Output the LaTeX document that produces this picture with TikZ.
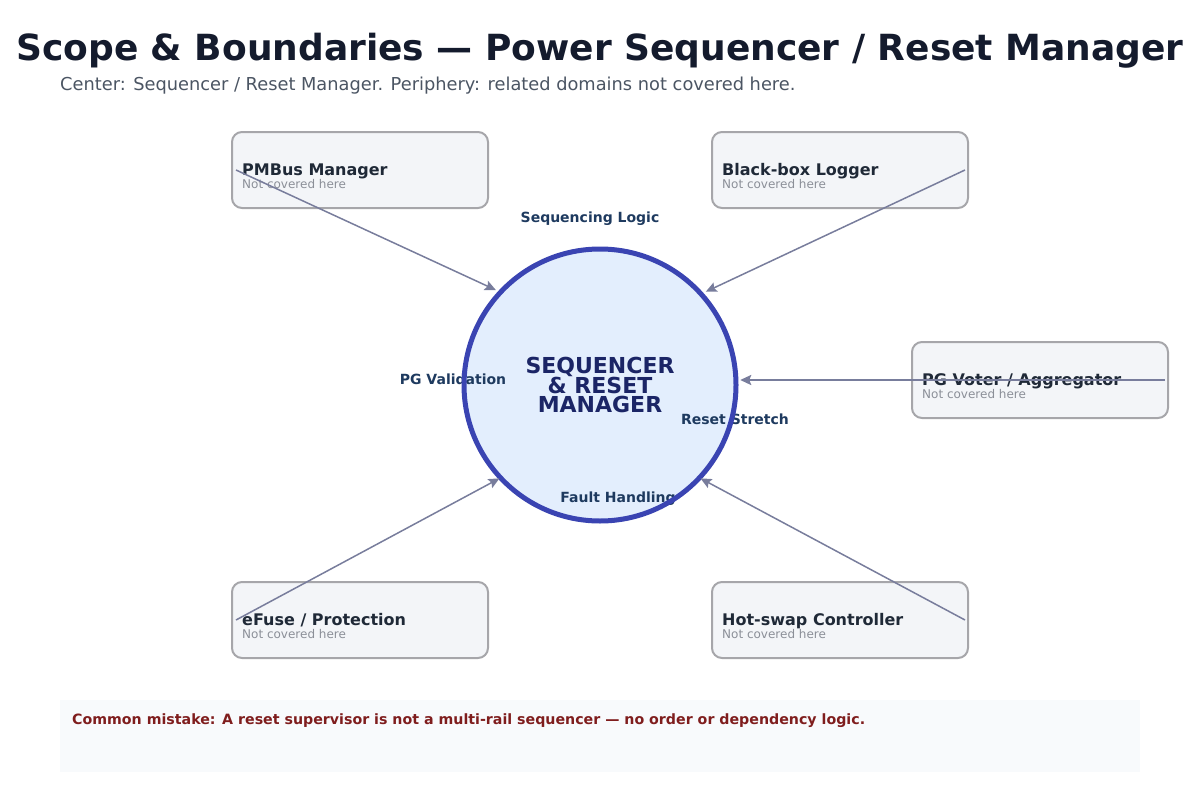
\documentclass[tikz,border=0pt]{standalone}
\usepackage{fontspec}
\setmainfont{DejaVu Sans}
\usepackage{xcolor}
\usetikzlibrary{arrows.meta,calc}

\definecolor{titleink}{HTML}{141B2D}
\definecolor{subink}{HTML}{4B5563}
\definecolor{boxedge}{HTML}{A6A6AA}
\definecolor{boxfill}{HTML}{F3F5F8}
\definecolor{boxink}{HTML}{1F2937}
\definecolor{boxsubink}{HTML}{8B8F98}
\definecolor{corefill}{HTML}{E3EEFD}
\definecolor{coreedge}{HTML}{3A44B2}
\definecolor{coreink}{HTML}{1B2566}
\definecolor{labelink}{HTML}{1E3A5F}
\definecolor{feedink}{HTML}{787D9C}
\definecolor{notefill}{HTML}{F8FAFC}
\definecolor{noteink}{HTML}{7F1D1D}

\begin{document}
\begin{tikzpicture}[x=1pt, y=-1pt,
  scopebox/.style={draw=boxedge, line width=2pt, fill=boxfill, rounded corners=10pt,
    minimum width=256pt, minimum height=76pt},
  boxtitle/.style={anchor=base west, inner sep=0pt, text=boxink, font=\bfseries\fontsize{16}{18}\selectfont},
  boxsub/.style={anchor=base west, inner sep=0pt, text=boxsubink, font=\fontsize{12}{14}\selectfont},
  core/.style={circle, fill=corefill, minimum size=272pt, inner sep=0pt, align=center,
    text=coreink, font=\bfseries\fontsize{22}{19}\selectfont},
  ring/.style={draw=coreedge, line width=5pt},
  facet/.style={text=labelink, font=\bfseries\fontsize{14}{15}\selectfont},
  feed/.style={draw=feedink, line width=1.5pt, -{Stealth[length=11pt,width=10pt,inset=2pt]}}]

  \useasboundingbox (0,0) rectangle (1200,800);

  % Title and subtitle
  \node[text=titleink, font=\bfseries\fontsize{36}{40}\selectfont] (title) at (600,51)
    {Scope \& Boundaries — Power Sequencer / Reset Manager};
  \node[anchor=west, inner sep=0pt, text=subink, font=\fontsize{17.8}{20}\selectfont] (subtitle) at (60,86)
    {Center: Sequencer / Reset Manager. Periphery: related domains not covered here.};

  % Periphery boxes
  \node[scopebox] (pmbus) at (360,170) {};
  \node[boxtitle] at ([xshift=11pt,yshift=-5pt]pmbus.west) {PMBus Manager};
  \node[boxsub] at ([xshift=11pt,yshift=-18pt]pmbus.west) {Not covered here};

  \node[scopebox] (blackbox) at (840,170) {};
  \node[boxtitle] at ([xshift=11pt,yshift=-5pt]blackbox.west) {Black-box Logger};
  \node[boxsub] at ([xshift=11pt,yshift=-18pt]blackbox.west) {Not covered here};

  \node[scopebox] (pgvoter) at (1040,380) {};
  \node[boxtitle] at ([xshift=11pt,yshift=-5pt]pgvoter.west) {PG Voter / Aggregator};
  \node[boxsub] at ([xshift=11pt,yshift=-18pt]pgvoter.west) {Not covered here};

  \node[scopebox] (efuse) at (360,620) {};
  \node[boxtitle] at ([xshift=11pt,yshift=-5pt]efuse.west) {eFuse / Protection};
  \node[boxsub] at ([xshift=11pt,yshift=-18pt]efuse.west) {Not covered here};

  \node[scopebox] (hotswap) at (840,620) {};
  \node[boxtitle] at ([xshift=11pt,yshift=-5pt]hotswap.west) {Hot-swap Controller};
  \node[boxsub] at ([xshift=11pt,yshift=-18pt]hotswap.west) {Not covered here};

  % Center
  \node[core] (core) at (600,385) {SEQUENCER\\\& RESET\\MANAGER};

  % Facets of the center
  \node[facet] (seqlogic) at (590,219) {Sequencing Logic};
  \node[facet] (pgvalid) at (453,379) {PG Validation};
  \node[facet] (rststretch) at (735,419) {Reset Stretch};
  \node[facet] (faulthdl) at (618,499) {Fault Handling};

  % Ring over the facets
  \draw[ring] (core.center) circle[radius=136];

  % Connectors
  \draw[feed, shorten >=5pt] ([xshift=5pt]pmbus.west) -- (core.137);
  \draw[feed, shorten >=5pt] ([xshift=-4pt]blackbox.east) -- (core.42);
  \draw[feed, line width=2.5pt, shorten >=4pt] ([xshift=-4pt]pgvoter.east) -- (pgvoter.east -| core.east);
  \draw[feed, shorten >=1pt] ([xshift=5pt]efuse.west) -- (core.223);
  \draw[feed, shorten >=1pt] ([xshift=-4pt]hotswap.east) -- (core.317);

  % Note
  \node[fill=notefill, minimum width=1080pt, minimum height=72pt, inner sep=0pt] (note) at (600,736) {};
  \node[anchor=west, inner sep=0pt, text=noteink, font=\bfseries\fontsize{14.2}{15}\selectfont] (notetext) at (72,721)
    {Common mistake: A reset supervisor is not a multi-rail sequencer — no order or dependency logic.};
\end{tikzpicture}
\end{document}
